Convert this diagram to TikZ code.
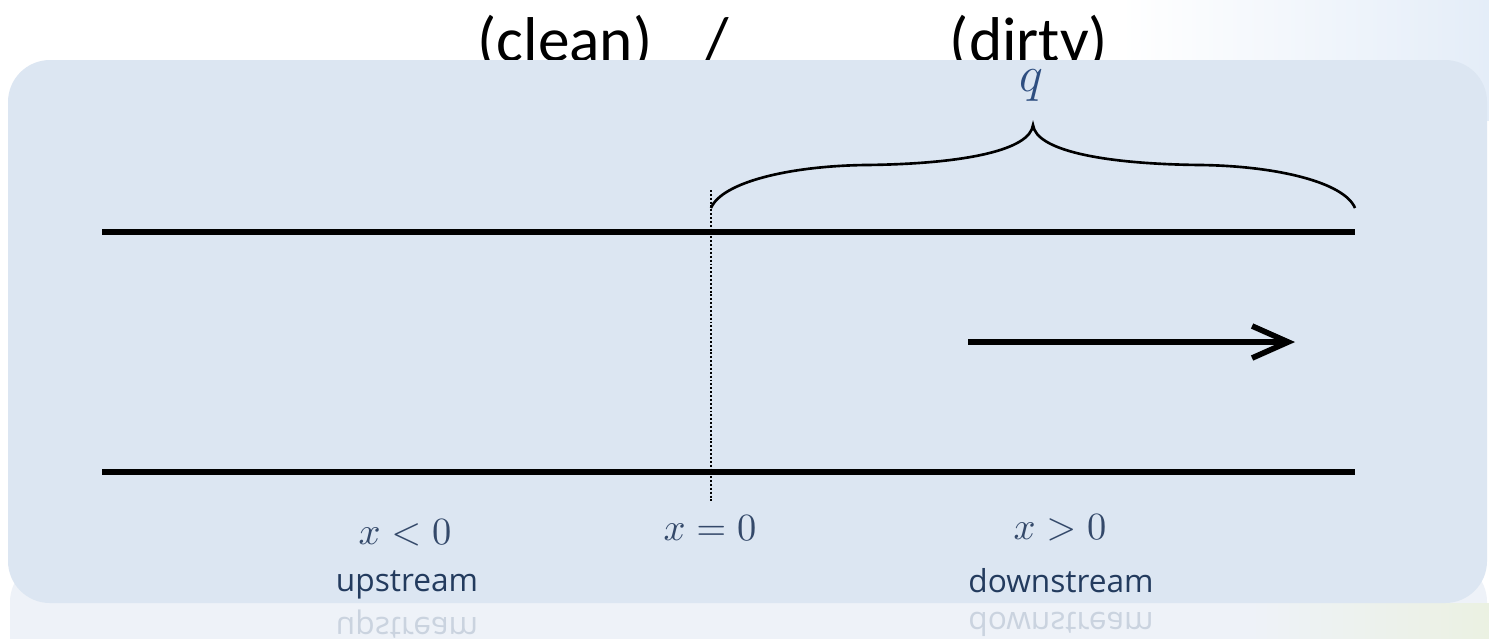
\documentclass[tikz,border=0pt]{standalone}
\usepackage{fontspec}
\usepackage{graphicx}
\newfontfamily\calfont{Carlito}
\newfontfamily\labfont{Open Sans}
\usetikzlibrary{arrows.meta}
\definecolor{panelblue}{HTML}{DCE6F2}
\definecolor{mathblue}{HTML}{34496A}
\definecolor{qblue}{HTML}{2E4E80}
\definecolor{wordblue}{HTML}{233B5E}
\definecolor{reflblue}{HTML}{EEF2F8}
\definecolor{refltext}{HTML}{CAD3DF}
\definecolor{skyblue}{HTML}{E4EDF8}
\definecolor{reflgreen}{HTML}{EBF1E2}
\tikzset{
  titletext/.style={font=\calfont\fontsize{18}{20}\selectfont, anchor=base, inner sep=0pt},
  mathlabel/.style={text=mathblue, font=\fontsize{10.5}{12}\selectfont, inner sep=0pt},
  wordlabel/.style={text=wordblue, font=\labfont\fontsize{9}{11}\selectfont, inner sep=0pt},
  refllabel/.style={text=refltext, font=\labfont\fontsize{9}{11}\selectfont, inner sep=0pt},
  wall/.style={line width=1.6pt, black},
  flowarrow/.style={line width=1.6pt, -{Straight Barb[length=0.36cm,width=0.32cm,line width=1.6pt]}},
  bracepath/.style={line width=0.75pt, black},
  markline/.style={line width=0.6pt, dash pattern=on 0.55pt off 0.55pt}
}
\begin{document}
\begin{tikzpicture}[x=0.01cm,y=-0.01cm]
\useasboundingbox (0,0) rectangle (1489,638);
% background
\fill[white] (0,0) rectangle (1489,638);
\shade[left color=white, right color=skyblue] (1120,0) rectangle (1489,120);
% reflection area
\fill[reflblue, rounded corners=0.42cm] (10,560) rectangle (1487,700);
\shade[left color=reflblue, right color=reflgreen] (1250,603) rectangle (1489,638);
% title texts (partly hidden by panel)
\node[titletext] (clean) at (565,61) {(clean)};
\node[titletext] (slash) at (717,61) {/};
\node[titletext] (dirty) at (1029,61) {(dirty)};
% panel
\fill[panelblue, rounded corners=0.42cm] (8,60) rectangle (1487,603);
% walls
\coordinate (tl) at (102,232);
\coordinate (tr) at (1355,232);
\coordinate (bl) at (102,472);
\coordinate (br) at (1355,472);
\draw[wall] (tl) -- (tr);
\draw[wall] (bl) -- (br);
% interface
\coordinate (dtop) at (711,190);
\coordinate (dbot) at (711,503);
\draw[markline] (dtop) -- (dbot);
% brace
\coordinate (bL) at (711,208);
\coordinate (bR) at (1355,208);
\coordinate (btip) at (1033,125);
\draw[bracepath] (bL) .. controls (722,182) and (790,166) .. (865,165)
  .. controls (965,164) and (1030,150) .. (btip)
  .. controls (1036,150) and (1101,164) .. (1201,165)
  .. controls (1276,166) and (1344,182) .. (bR);
\node[text=qblue, font=\fontsize{15}{17}\selectfont, inner sep=0pt] (q) at (1031,86) {$q$};
% flow arrow
\coordinate (aS) at (968,342);
\coordinate (aE) at (1295,342);
\draw[flowarrow] (aS) -- (aE);
% labels
\node[mathlabel] (xl) at (405,533) {$x<0$};
\node[mathlabel] (xe) at (710,528) {$x=0$};
\node[mathlabel] (xg) at (1060,528) {$x>0$};
\node[wordlabel] (up) at (407,585) {upstream};
\node[wordlabel] (down) at (1061,581) {downstream};
\node[refllabel] (upr) at (407,624) {\scalebox{1}[-1]{upstream}};
\node[refllabel] (downr) at (1061,624) {\scalebox{1}[-1]{downstream}};
\end{tikzpicture}
\end{document}
